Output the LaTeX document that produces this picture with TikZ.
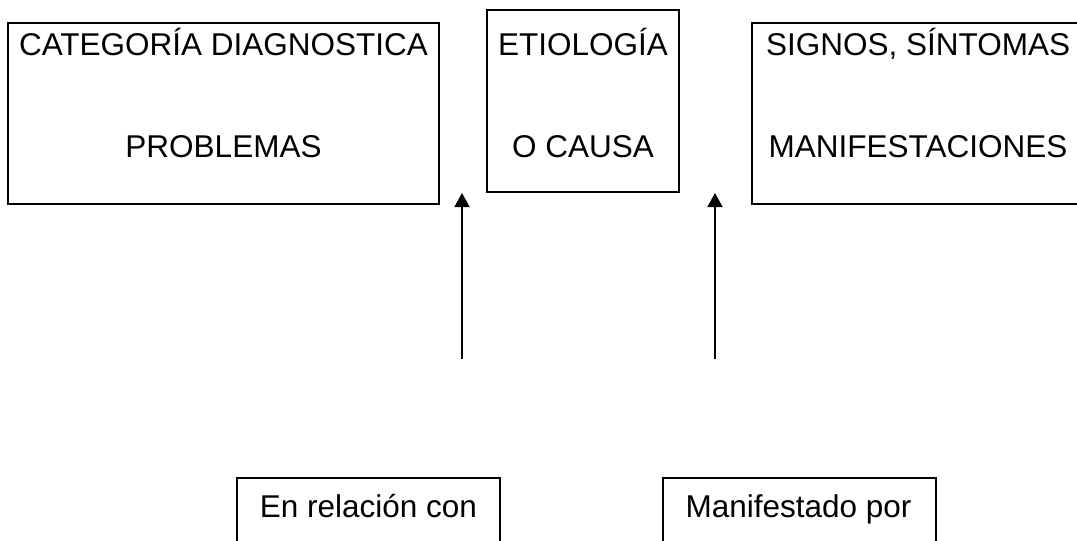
\documentclass[tikz,border=0pt]{standalone}
\usepackage{fontspec}
\setmainfont{Liberation Sans}
\usetikzlibrary{arrows.meta}

\begin{document}
\begin{tikzpicture}[x=1pt, y=-1pt,
  caja/.style={draw=black, line width=1.6pt, rectangle, inner sep=0pt},
  texto/.style={anchor=base, inner sep=0pt, font=\fontsize{31.5}{38}\selectfont},
  flecha/.style={line width=1.5pt, -{Triangle[width=15pt,length=14pt]}}]
\clip (0,0) rectangle (1077,541);
\fill[white] (0,0) rectangle (1077,541);
% cajas de arriba
\node (cat) [caja, minimum width=431pt, minimum height=181pt] at (223.5,113.5) {};
\node (eti) [caja, minimum width=192pt, minimum height=182pt] at (583,101) {};
\node (sig) [caja, minimum width=332pt, minimum height=181pt] at (918,113.5) {};
% cajas de abajo
\node (rel) [caja, minimum width=263pt, minimum height=102pt] at (368.5,529) {};
\node (man) [caja, minimum width=273pt, minimum height=102pt] at (799.5,529) {};
% textos
\node (cat1) [texto] at (223.5,55) {CATEGORÍA DIAGNOSTICA};
\node (cat2) [texto] at (223.5,157) {PROBLEMAS};
\node (eti1) [texto] at (583,55) {ETIOLOGÍA};
\node (eti2) [texto] at (583,157) {O CAUSA};
\node (sig1) [texto] at (918,55) {SIGNOS, SÍNTOMAS};
\node (sig2) [texto] at (918,157) {MANIFESTACIONES};
\node (rel1) [texto] at (368.5,517) {En relación con};
\node (man1) [texto] at (798.5,517) {Manifestado por};
% flechas
\coordinate (f1a) at (462,359);
\coordinate (f1b) at (462,193);
\coordinate (f2a) at (715,359);
\coordinate (f2b) at (715,193);
\draw [flecha] (f1a) -- (f1b);
\draw [flecha] (f2a) -- (f2b);
\end{tikzpicture}
\end{document}
